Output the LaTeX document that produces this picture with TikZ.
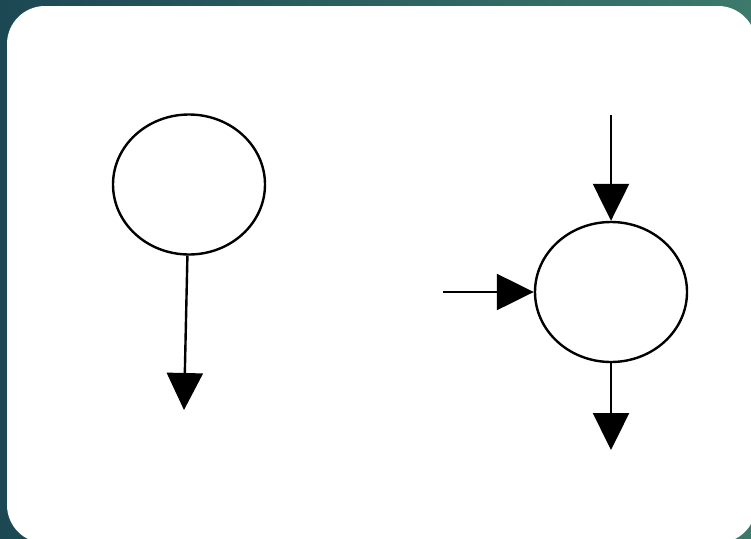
\documentclass[tikz,border=0pt]{standalone}
\usetikzlibrary{arrows.meta,shapes.geometric}
\definecolor{bgleft}{RGB}{28,72,84}
\definecolor{bgright}{RGB}{60,122,108}
\tikzset{
  bubble/.style={ellipse,draw=black,line width=2.4pt,fill=white,minimum width=152pt,minimum height=140pt,inner sep=0pt},
  flow/.style={line width=2.4pt,-{Triangle[length=37pt,width=36pt]}}
}
\begin{document}
\begin{tikzpicture}[x=1pt,y=-1pt]
\useasboundingbox (0,0) rectangle (751,538);
\shade[left color=bgleft,right color=bgright] (0,0) rectangle (751,538);
\fill[white,rounded corners=38pt] (7,6) rectangle (756,543);
\node[bubble] (c1) at (189,184.5) {};
\node[bubble] (c2) at (611,292) {};
\coordinate (e1) at (184,410);
\coordinate (t2) at (611,115);
\coordinate (l2) at (443,292);
\coordinate (b2) at (611,450);
\draw[flow] (c1) -- (e1);
\draw[flow] (t2) -- (c2);
\draw[flow] (l2) -- (c2);
\draw[flow] (c2) -- (b2);
\end{tikzpicture}
\end{document}
